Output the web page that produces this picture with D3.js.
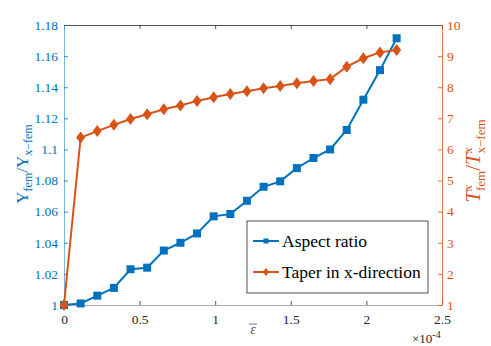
<!DOCTYPE html>
<html>
<head>
<meta charset="utf-8">
<script src="https://d3js.org/d3.v7.min.js"></script>
<style>
	body { margin: 0; background: #fff; }
</style>
</head>
<body>
<svg width="491" height="346" id="chart"></svg>
<script>

	// strain values (x 1e-4)
	var strain = [0, 0.11, 0.22, 0.33, 0.44, 0.55, 0.66, 0.77, 0.88, 0.99, 1.1,
		1.21, 1.32, 1.43, 1.54, 1.65, 1.76, 1.87, 1.98, 2.09, 2.2];
	var aspect = [1, 1.001, 1.006, 1.011, 1.023, 1.024, 1.035, 1.040, 1.046, 1.057, 1.0585,
		1.067, 1.076, 1.0795, 1.088, 1.0945, 1.100, 1.1125, 1.132, 1.151, 1.1715];
	var taper = [1, 6.38, 6.59, 6.79, 6.98, 7.13, 7.29, 7.41, 7.56, 7.68, 7.78,
		7.87, 7.97, 8.04, 8.13, 8.20, 8.26, 8.66, 8.93, 9.12, 9.20];
	var xTicks = [0, 0.5, 1, 1.5, 2, 2.5];
	var leftTicks = [1, 1.02, 1.04, 1.06, 1.08, 1.1, 1.12, 1.14, 1.16, 1.18];
	var rightTicks = [1, 2, 3, 4, 5, 6, 7, 8, 9, 10];

	var blue = "#0072BD", orange = "#D95319", gray = "#262626";
	var serif = "Liberation Serif";

	var svg = d3.select("#chart"),
		margin = {top: 25, right: 49, bottom: 41, left: 64},
		width = 491 - margin.left - margin.right,
		height = 346 - margin.top - margin.bottom;

	var g = svg.append("g").attr("transform", `translate(${margin.left},${margin.top})`);

	var x = d3.scaleLinear().domain([0, 2.5]).range([0, width]);
	var yL = d3.scaleLinear().domain([1, 1.18]).range([height, 0]);
	var yR = d3.scaleLinear().domain([1, 10]).range([height, 0]);

	function style(sel, color) {
		sel.attr("font-family", serif).attr("font-size", 13.5);
		sel.selectAll("path").attr("stroke", color).attr("stroke-width", 0.8);
		sel.selectAll("line").attr("stroke", color).attr("stroke-width", 0.8);
		sel.selectAll("text").attr("fill", color).attr("font-family", serif);
	}

	var xb = g.append("g").attr("transform", `translate(0,${height})`)
		.call(d3.axisBottom(x).tickValues(xTicks).tickSize(-4).tickSizeOuter(0)
			.tickPadding(9).tickFormat(d3.format("")));
	style(xb, gray);
	xb.selectAll("path").attr("stroke", "#999");

	var xt = g.append("g")
		.call(d3.axisTop(x).tickValues(xTicks).tickSize(-4).tickSizeOuter(0).tickFormat(""));
	style(xt, gray);

	var yl = g.append("g")
		.call(d3.axisLeft(yL).tickValues(leftTicks).tickSize(-4).tickSizeOuter(0)
			.tickPadding(6).tickFormat(d3.format("")));
	style(yl, blue);
	yl.select("path").attr("stroke", "#5aa6d8");

	var yr = g.append("g").attr("transform", `translate(${width},0)`)
		.call(d3.axisRight(yR).tickValues(rightTicks).tickSize(-4).tickSizeOuter(0)
			.tickPadding(5));
	style(yr, orange);

	// lines
	var line = d3.line();
	g.append("path")
		.attr("d", line(strain.map((s, i) => [x(s), yL(aspect[i])])))
		.attr("fill", "none").attr("stroke", blue).attr("stroke-width", 2);
	g.selectAll(".sq").data(strain).enter().append("rect")
		.attr("x", (d) => x(d) - 4).attr("y", (d, i) => yL(aspect[i]) - 4)
		.attr("width", 8).attr("height", 8).attr("fill", blue);

	g.append("path")
		.attr("d", line(strain.map((s, i) => [x(s), yR(taper[i])])))
		.attr("fill", "none").attr("stroke", orange).attr("stroke-width", 2);
	var diamond = "M0,-6L4.5,0L0,6L-4.5,0Z";
	g.selectAll(".dm").data(strain).enter().append("path")
		.attr("transform", (d, i) => `translate(${x(d)},${yR(taper[i])})`)
		.attr("d", diamond).attr("fill", orange);

	// axis labels
	svg.append("text").attr("x", 253).attr("y", 334)
		.attr("text-anchor", "middle").attr("font-size", 14).attr("font-style", "italic")
		.attr("font-family", serif).attr("fill", "#555").text("ε");
	svg.append("line").attr("x1", 249).attr("x2", 257).attr("y1", 324).attr("y2", 324)
		.attr("stroke", "#555").attr("stroke-width", 0.8);

	var ex = svg.append("text").attr("x", 412).attr("y", 343)
		.attr("font-size", 13).attr("font-family", serif).attr("fill", gray);
	ex.append("tspan").text("×10");
	ex.append("tspan").attr("dy", -5).attr("font-size", 10).text("-4");

	var ll = svg.append("text").attr("transform", "translate(28,164) rotate(-90)")
		.attr("text-anchor", "middle").attr("fill", blue).attr("font-size", 17)
		.attr("font-family", serif);
	ll.append("tspan").text("Υ");
	ll.append("tspan").attr("dy", 4).attr("font-size", 12).text("fem");
	ll.append("tspan").attr("dy", -4).text("/Υ");
	ll.append("tspan").attr("dy", 4).attr("font-size", 12).text("x−fem");

	var rl = svg.append("text").attr("transform", "translate(480,161) rotate(-90)")
		.attr("text-anchor", "middle").attr("fill", orange).attr("font-size", 21)
		.attr("font-family", serif);
	rl.append("tspan").attr("font-style", "italic").text("T");
	rl.append("tspan").attr("dy", -8).attr("font-size", 13).attr("font-style", "italic").text("x");
	rl.append("tspan").attr("dx", -6).attr("dy", 13).attr("font-size", 13).text("fem");
	rl.append("tspan").attr("dy", -5).text("/");
	rl.append("tspan").attr("font-style", "italic").text("T");
	rl.append("tspan").attr("dy", -8).attr("font-size", 13).attr("font-style", "italic").text("x");
	rl.append("tspan").attr("dx", -6).attr("dy", 13).attr("font-size", 13).text("x−fem");

	// legend
	var lg = svg.append("g").attr("transform", "translate(247,221)");
	lg.append("rect").attr("width", 181).attr("height", 72)
		.attr("fill", "#fff").attr("stroke", gray).attr("stroke-width", 0.8);
	var items = [{name: "Aspect ratio", color: blue, y: 20, mark: "sq"},
		{name: "Taper in x-direction", color: orange, y: 51, mark: "dm"}];
	items.forEach(function(it) {
		lg.append("line").attr("x1", 6).attr("x2", 32).attr("y1", it.y).attr("y2", it.y)
			.attr("stroke", it.color).attr("stroke-width", 2);
		if (it.mark == "sq")
			lg.append("rect").attr("x", 16.5).attr("y", it.y - 2.5).attr("width", 5).attr("height", 5)
				.attr("fill", it.color);
		else
			lg.append("path").attr("transform", `translate(19,${it.y})`)
				.attr("d", "M0,-4L3,0L0,4L-3,0Z").attr("fill", it.color);
		lg.append("text").attr("x", 35).attr("y", it.y + 6).attr("font-size", 17.5)
			.attr("font-family", serif).attr("fill", "#000").text(it.name);
	});

</script>
</body>
</html>
